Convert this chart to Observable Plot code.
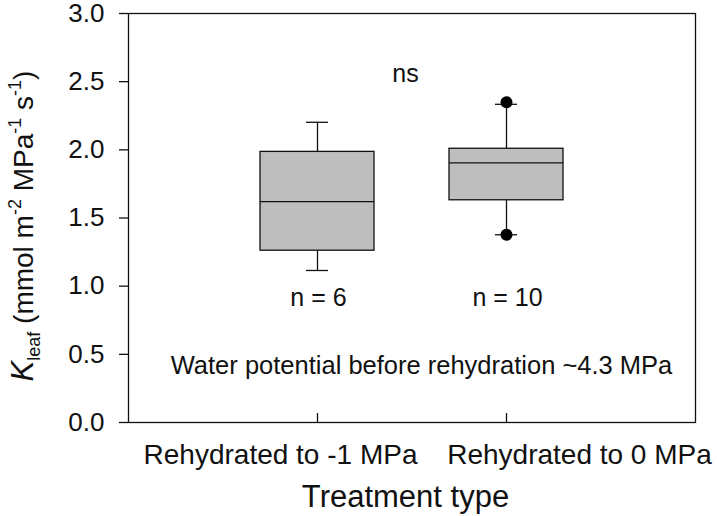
<!DOCTYPE html>
<html>
<head>
<meta charset="utf-8">
<script src="https://cdn.jsdelivr.net/npm/d3@7"></script>
<script src="https://cdn.jsdelivr.net/npm/@observablehq/plot@0.6"></script>
<style>
  html, body { margin: 0; padding: 0; background: #fff; }
  #chart svg { display: block; }
</style>
</head>
<body>
<div id="chart"></div>
<script>
// ---- data ----
const treatments = ["Rehydrated to -1 MPa", "Rehydrated to 0 MPa"];
const q1 = [1.26, 1.63];
const median = [1.62, 1.905];
const q3 = [1.985, 2.008];
const whiskerLow = [1.115, 1.377];
const whiskerHigh = [2.202, 2.334];
const outlierTreatment = ["Rehydrated to 0 MPa", "Rehydrated to 0 MPa"];
const outlierValue = [2.349, 1.377];
const nLabels = ["n = 6", "n = 10"];
const yTicks = [0, 0.5, 1.0, 1.5, 2.0, 2.5, 3.0];
const xTitle = "Treatment type";
const sigLabel = "ns";
const noteLabel = "Water potential before rehydration ~4.3 MPa";

const boxes = treatments.map((t, i) => ({
  t, q1: q1[i], med: median[i], q3: q3[i], lo: whiskerLow[i], hi: whiskerHigh[i], n: nLabels[i]
}));
const outliers = outlierTreatment.map((t, i) => ({t, v: outlierValue[i]}));

const FONT = "'Liberation Sans', Arial, Helvetica, sans-serif";
const INK = "#111";

const plot = Plot.plot({
  width: 717,
  height: 516,
  marginLeft: 128,
  marginRight: 22,
  marginTop: 13,
  marginBottom: 94,
  style: {fontFamily: FONT, color: INK, background: "#fff", overflow: "visible"},
  x: {type: "band", domain: treatments, paddingInner: 0.397, paddingOuter: 0.698, align: 0.5, axis: null},
  y: {domain: [0, 3], axis: null},
  marks: [
    // whiskers
    Plot.ruleX(boxes, {x: "t", y1: "q3", y2: "hi", stroke: INK, strokeWidth: 1.3}),
    Plot.ruleX(boxes, {x: "t", y1: "q1", y2: "lo", stroke: INK, strokeWidth: 1.3}),
    // whisker caps
    Plot.tickY(boxes, {x: "t", y: "hi", stroke: INK, strokeWidth: 1.3, inset: 46}),
    Plot.tickY(boxes, {x: "t", y: "lo", stroke: INK, strokeWidth: 1.3, inset: 46}),
    // boxes
    Plot.barY(boxes, {x: "t", y1: "q1", y2: "q3", fill: "#bebebe", stroke: INK, strokeWidth: 1.3}),
    // medians
    Plot.tickY(boxes, {x: "t", y: "med", stroke: INK, strokeWidth: 1.3}),
    // outliers
    Plot.dot(outliers, {x: "t", y: "v", r: 6, fill: "#000", stroke: "none"}),
    // frame
    Plot.frame({stroke: INK, strokeWidth: 1.3}),
    // y axis (outward ticks)
    Plot.axisY(yTicks, {
      anchor: "left", tickSize: 9, tickPadding: 15, tickFormat: d3.format(".1f"),
      fontSize: 26, stroke: INK, strokeWidth: 1.3, fill: INK, label: null
    }),
    // x axis ticks pointing inward (upward)
    Plot.axisX(treatments, {
      anchor: "bottom", tickSize: 9, dy: -9, tickFormat: () => "", stroke: INK, strokeWidth: 1.3, label: null
    }),
    // x tick labels (offset as in the reference)
    Plot.text([boxes[0]], {x: "t", y: () => 0, text: "t", dx: -37, dy: 41.5, lineAnchor: "bottom", textAnchor: "middle", fontSize: 28, fill: INK}),
    Plot.text([boxes[1]], {x: "t", y: () => 0, text: "t", dx: 73, dy: 41.5, lineAnchor: "bottom", textAnchor: "middle", fontSize: 28, fill: INK}),
    // x title
    Plot.text([xTitle], {frameAnchor: "bottom", text: d => d, dx: -6.5, dy: 84, lineAnchor: "bottom", fontSize: 31, fill: INK}),
    // n labels
    Plot.text(boxes, {x: "t", y: () => 0.857, text: "n", lineAnchor: "bottom", fontSize: 25, fill: INK, dx: 1}),
    // significance
    Plot.text([sigLabel], {y: () => 2.495, frameAnchor: "middle", text: d => d, dx: -6.5, lineAnchor: "bottom", fontSize: 25, fill: INK}),
    // note
    Plot.text([noteLabel], {y: () => 0.358, frameAnchor: "middle", text: d => d, dx: 9.5, lineAnchor: "bottom", fontSize: 25.5, fill: INK})
  ]
});

document.getElementById("chart").appendChild(plot);

// y-axis title with italic K, subscript and superscripts
const svg = d3.select(plot);
const ylab = svg.append("text")
  .attr("transform", "translate(33,226) rotate(-90)")
  .attr("text-anchor", "middle")
  .attr("font-family", FONT)
  .attr("font-size", 28)
  .attr("fill", INK);
const parts = [
  {t: "K", style: "italic", size: 31},
  {t: "leaf", size: 18, dy: 7},
  {t: " (mmol m", dy: -7},
  {t: "-2", size: 18, dy: -12},
  {t: " MPa", dy: 12},
  {t: "-1", size: 18, dy: -12},
  {t: " s", dy: 12},
  {t: "-1", size: 18, dy: -12},
  {t: ")", dy: 12}
];
for (const p of parts) {
  const ts = ylab.append("tspan").text(p.t);
  if (p.style) ts.attr("font-style", p.style);
  if (p.size) ts.attr("font-size", p.size);
  if (p.dy) ts.attr("dy", p.dy);
}
</script>
</body>
</html>
